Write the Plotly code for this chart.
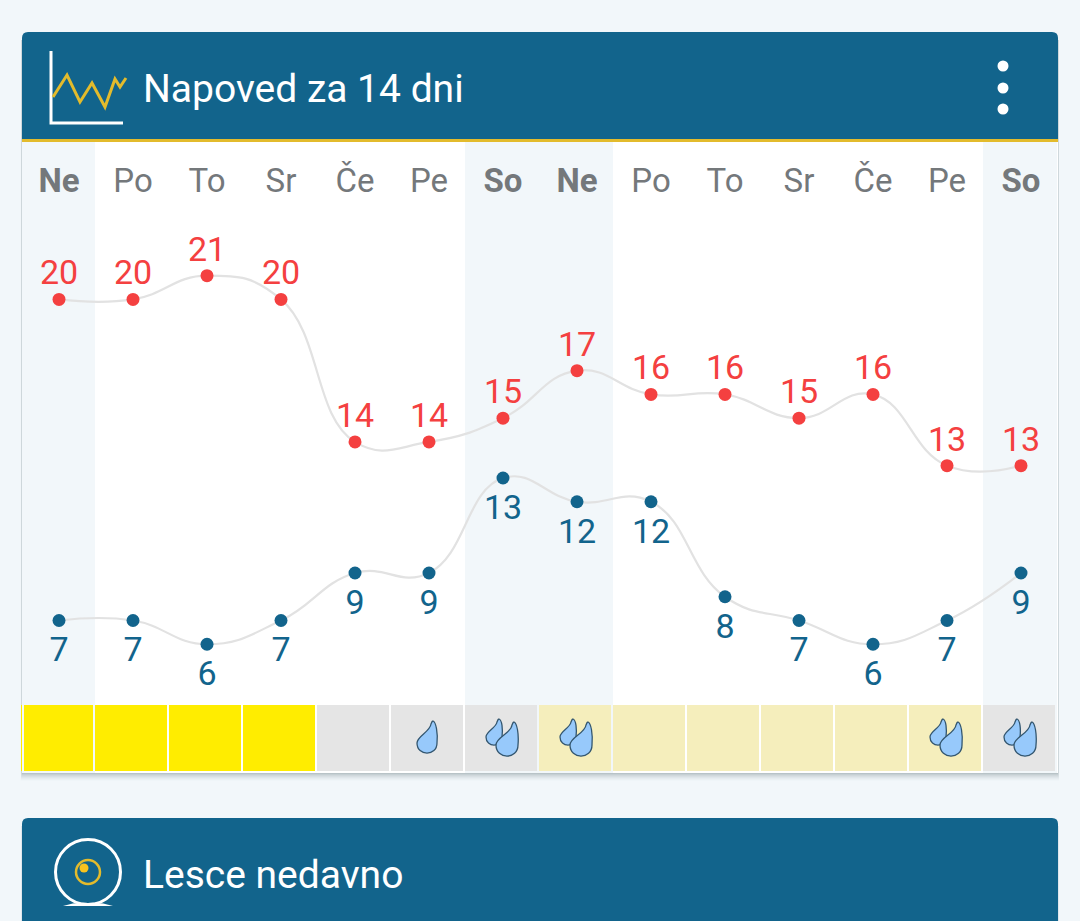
import plotly.graph_objects as go

days = ["Ne","Po","To","Sr","Če","Pe","So","Ne","Po","To","Sr","Če","Pe","So"]
highs = [20,20,21,20,14,14,15,17,16,16,15,16,13,13]
lows = [7,7,6,7,9,9,13,12,12,8,7,6,7,9]
weekend = [0,6,7,13]
cell_colors = ["#ffed00","#ffed00","#ffed00","#ffed00","#e5e5e5","#e5e5e5","#e5e5e5",
               "#f5eebc","#f5eebc","#f5eebc","#f5eebc","#f5eebc","#f5eebc","#e5e5e5"]
drops = [0,0,0,0,0,1,2,2,0,0,0,0,2,2]
title_text = "Napoved za 14 dni"
second_title = "Lesce nedavno"

W, H = 1080, 921
BLUE = "#12648c"; RED = "#f44040"; GOLD = "#e3bb2c"; BG = "#f2f7fa"; GREY = "#74787b"
idx = list(range(14))
X0, DX = 59, 74
PX = 23.75
FONT = "Roboto"

def rng(val, at):  # axis range so that value val sits at pixel at
    return [val - (H - at) / PX, val + at / PX]

shapes = []
def rect(x0, y0, x1, y1, fill, layer="below"):
    shapes.append(dict(type="rect", xref="x2", yref="y4", x0=x0, y0=y0, x1=x1, y1=y1,
                       fillcolor=fill, line_width=0, layer=layer))
def path(d, fill="rgba(0,0,0,0)", color=None, width=0, layer="above"):
    shapes.append(dict(type="path", xref="x2", yref="y4", path=d, fillcolor=fill,
                       line=dict(color=color or "rgba(0,0,0,0)", width=width), layer=layer))
def circle(cx, cy, r, fill="rgba(0,0,0,0)", color=None, width=0):
    shapes.append(dict(type="circle", xref="x2", yref="y4", x0=cx-r, y0=cy-r, x1=cx+r, y1=cy+r,
                       fillcolor=fill, line=dict(color=color or "rgba(0,0,0,0)", width=width), layer="above"))
def rrect_top(x0, y0, x1, y1, r):
    return (f"M{x0},{y1} L{x0},{y0+r} Q{x0},{y0} {x0+r},{y0} L{x1-r},{y0} "
            f"Q{x1},{y0} {x1},{y0+r} L{x1},{y1} Z")
def drop(tx, ty, cx, cy, r):
    return (f"M{tx},{ty} C{tx+3},{ty+1} {cx+r+1},{cy-r} {cx+r},{cy} "
            f"C{cx+r},{cy+r*1.35} {cx-r},{cy+r*1.35} {cx-r},{cy} "
            f"C{cx-r},{cy-r*0.7} {tx-3},{ty+(cy-ty)*0.5} {tx-2},{ty+3} "
            f"Q{tx-1},{ty} {tx},{ty} Z")

# card shadow
for i, a in zip(range(8, 0, -1), [0.012, 0.018, 0.025, 0.03, 0.035, 0.045, 0.06, 0.08]):
    rect(22 - i/6, 40, 1058 + i/6, 773 + i, f"rgba(40,60,70,{a})")
    rect(22 - i/6, 826, 1058 + i/6, 921, f"rgba(40,60,70,{a/2})")
# card body
rect(22, 140, 1058, 773, "#ffffff")
for i in weekend:
    rect(max(X0 - 1 + DX*(i-0.5), 22), 142, min(X0 - 1 + DX*(i+0.5), 1058), 773, BG)
# headers
path(rrect_top(22, 32, 1058, 140, 6), fill=BLUE, layer="below")
rect(22, 139, 1058, 142, GOLD)
path(rrect_top(22, 818, 1058, 921, 6), fill=BLUE, layer="below")
# first condition cell is clipped by a strip at the card's left edge
rect(22, 705, 24, 771, BG, layer="above")

# chart icon
path("M51,51 L51,123 L123,123", color="#ffffff", width=3)
path("M53,97 L67,75 L80,102 L92,83 L105,107 L115,79 L120,87 L126,78", color=GOLD, width=3)
# menu dots
for y in (66, 88, 109):
    circle(1003, y, 5.5, fill="#ffffff")
# camera icon
circle(88, 872, 32.5, color="#ffffff", width=3)
circle(88, 872, 12, color=GOLD, width=2.5)
circle(84, 868, 4.5, fill="#f9c31e")
path("M63,906 Q75,902 88,903 Q101,902 113,906 Z", fill="#ffffff")

# drops
for i, n in enumerate(drops):
    c = X0 + DX*i
    if n == 1:
        path(drop(c+4, 721, c-2, 743, 10), fill="#97c9fb", color="#33566f", width=1.3)
    elif n == 2:
        path(drop(c-4, 719, c-9, 737, 8), fill="#97c9fb", color="#33566f", width=1.3)
        path(drop(c+11, 722, c+4, 745, 11), fill="#97c9fb", color="#33566f", width=1.3)

fig = go.Figure()
fig.add_trace(go.Scatter(x=[0, W], y=[0, H], xaxis="x2", yaxis="y4", mode="markers",
                         marker=dict(opacity=0), hoverinfo="skip"))
fig.add_trace(go.Bar(x=idx, y=[1]*14, width=72/DX, offset=-38.5/DX,
                     marker=dict(color=cell_colors, line_width=0),
                     xaxis="x", yaxis="y3", hoverinfo="skip"))
for vals, color, pos, ax, gap in [(highs, RED, "top center", "y", 9), (lows, BLUE, "bottom center", "y2", 23)]:
    fig.add_trace(go.Scatter(x=idx, y=vals, mode="lines", yaxis=ax,
                             line=dict(color="#e2e2e2", width=2.2, shape="spline", smoothing=1.3)))
    fig.add_trace(go.Scatter(x=idx, y=vals, mode="markers", yaxis=ax,
                             marker=dict(color=color, size=13)))
    fig.add_trace(go.Scatter(x=idx, y=vals, mode="markers+text", yaxis=ax, text=[str(v) for v in vals],
                             textposition=pos, textfont=dict(family=FONT, size=34, color=color),
                             marker=dict(opacity=0, size=gap)))
# day labels
fig.add_trace(go.Scatter(x=idx, y=[0]*14, yaxis="y5", mode="text",
                         text=[f"<b>{d}</b>" if i in weekend else d for i, d in enumerate(days)],
                         textposition="middle center",
                         textfont=dict(family=FONT, size=33, color=GREY)))

annots = [dict(xref="x2", yref="y4", x=141, y=y, text=t, showarrow=False, xanchor="left", yanchor="middle",
               font=dict(family=FONT, size=39, color="#ffffff"))
          for t, y in [(title_text, 89), (second_title, 875)]]

hidden = dict(visible=False, fixedrange=True)
fig.update_layout(
    width=W, height=H, autosize=False, margin=dict(l=0, r=0, t=0, b=0),
    paper_bgcolor=BG, plot_bgcolor="rgba(0,0,0,0)", showlegend=False,
    xaxis=dict(hidden, range=[-X0/DX, (W-X0)/DX], domain=[0, 1]),
    xaxis2=dict(hidden, range=[0, W], overlaying="x", anchor="y4"),
    yaxis=dict(hidden, range=rng(20, 299.4), domain=[0, 1]),
    yaxis2=dict(hidden, range=rng(13, 478), overlaying="y"),
    yaxis3=dict(hidden, range=[0, 1], domain=[1-771/H, 1-705/H], anchor="x"),
    yaxis4=dict(hidden, range=[H, 0], overlaying="y", anchor="x2"),
    yaxis5=dict(hidden, range=[-1, 1], domain=[1-214/H, 1-154/H], anchor="x"),
    shapes=shapes, annotations=annots, bargap=0,
)
fig.write_html("out.html", config=dict(displayModeBar=False),
               post_script="document.body.style.margin='0';document.body.style.overflow='hidden';")
